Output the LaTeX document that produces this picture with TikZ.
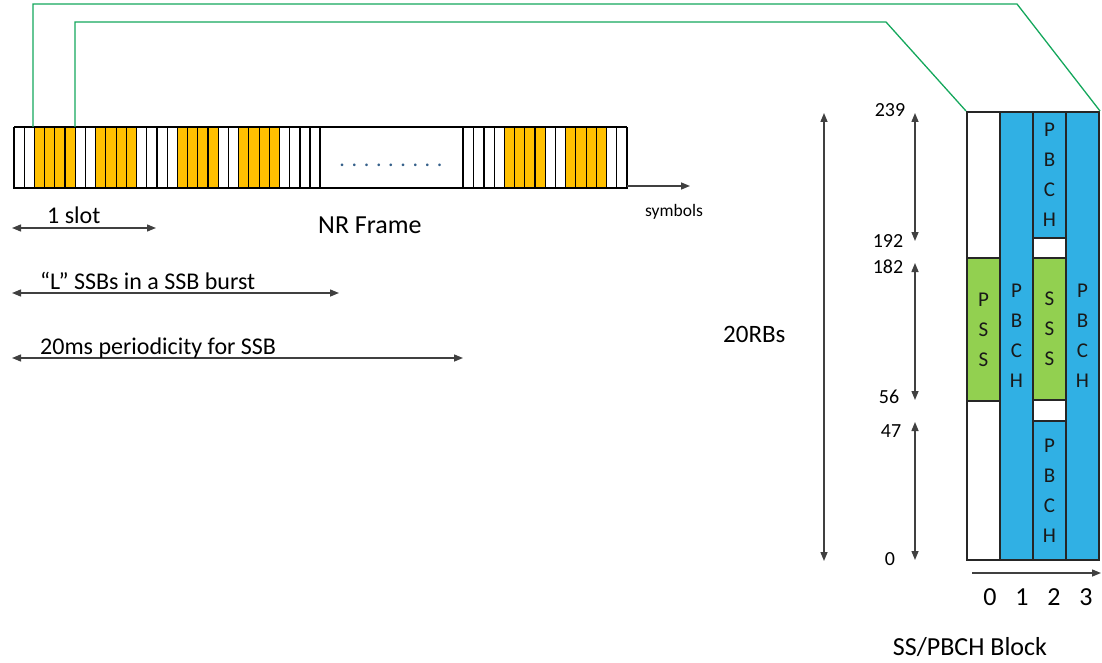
\documentclass[tikz,border=0pt]{standalone}
\usepackage{fontspec}
\setmainfont{Carlito}
\usetikzlibrary{arrows.meta}
\definecolor{ssbyellow}{HTML}{FFC000}
\definecolor{pbchblue}{HTML}{30B0E4}
\definecolor{ssgreen}{HTML}{92D050}
\definecolor{lnkgreen}{HTML}{14A75C}
\definecolor{dimgray}{HTML}{404040}
\definecolor{dotblue}{HTML}{35608A}
\tikzset{cell/.append style={draw=black!85, line width=2pt, minimum width=33pt, inner sep=0pt, align=center, text=black!90, font=\fontsize{21}{30}\selectfont}}
\tikzset{dim/.append style={draw=dimgray, line width=1.4pt, {Triangle[length=9pt,width=7pt]}-{Triangle[length=9pt,width=7pt]}}}
\tikzset{axis/.append style={draw=dimgray, line width=1.4pt, -{Triangle[length=9pt,width=7pt]}}}
\tikzset{lnk/.append style={draw=lnkgreen, line width=1.3pt}}
\tikzset{symline/.append style={draw=black, line width=1.2pt}}
\tikzset{slotline/.append style={draw=black, line width=2.2pt}}
\tikzset{lbl/.append style={inner sep=0pt, font=\fontsize{24}{29}\selectfont}}
\tikzset{num/.append style={inner sep=0pt, anchor=base, font=\fontsize{20}{24}\selectfont}}

\begin{document}
\begin{tikzpicture}[x=1pt,y=-1pt]
                \useasboundingbox (0,0) rectangle (1102,663);
                % NR frame: full slots
                \def\w{10.21}
                \foreach \s in {14,157,484}{
                    \fill[ssbyellow] (\s+2*\w,127) rectangle (\s+6*\w,188);
                    \fill[ssbyellow] (\s+8*\w,127) rectangle (\s+12*\w,188);
                    \foreach \k in {1,...,13} \draw[symline] (\s+\k*\w,127) -- (\s+\k*\w,188);
                    \draw[symline] (\s,127) -- (\s+14*\w,127);
                    \draw[slotline] (\s,127) -- (\s,188) -- (\s+14*\w,188) -- (\s+14*\w,127);
                }
                % skipped slots
                \draw[symline] (300,127) -- (484,127) (310,127) -- (310,188) (473.5,127) -- (473.5,188);
                \draw[slotline] (300,127) -- (300,188) -- (484,188);
                \draw[slotline] (320,127) -- (320,188) (463,127) -- (463,188);
                \node[font=\fontsize{22}{26}\selectfont, text=dotblue, anchor=base, inner sep=0pt] (dots) at (391,167) {. . . . . . . . .};
                % SS/PBCH block
                \node[cell, fill=white, minimum height=448pt] (c0) at (983.5,336) {};
                \node[cell, fill=ssgreen, minimum height=143pt] (pss) at (983.5,329.5) {P\\S\\S};
                \node[cell, fill=pbchblue, minimum height=448pt] (c1) at (1016.5,336) {P\\B\\C\\H};
                \node[cell, fill=white, minimum height=448pt] (c2) at (1049.5,336) {};
                \node[cell, fill=pbchblue, minimum height=126pt] (pbchT) at (1049.5,175) {P\\B\\C\\H};
                \node[cell, fill=ssgreen, minimum height=142pt] (sss) at (1049.5,329) {S\\S\\S};
                \node[cell, fill=pbchblue, minimum height=139pt] (pbchB) at (1049.5,490.5) {P\\B\\C\\H};
                \node[cell, fill=pbchblue, minimum height=448pt] (c3) at (1082.5,336) {P\\B\\C\\H};
                % links from the burst to the block
                \coordinate (ssbA) at (33,127);
                \coordinate (ssbB) at (75,127);
                \draw[lnk] (ssbA) |- (1017,4) -- (c3.north east);
                \draw[lnk] (ssbB) |- (886,22) -- (c0.north west);
                % time axis and spans
                \coordinate (frameEnd) at (627,186);
                \coordinate (symTip) at (690,186);
                \draw[axis] (frameEnd) -- (symTip);
                \node[inner sep=0pt, anchor=base west, font=\fontsize{17.5}{21}\selectfont] (symbols) at (645,216) {symbols};
                \node[lbl, anchor=base west, font=\fontsize{26}{31}\selectfont] (frame) at (318,233) {NR Frame};
                \coordinate (slotL) at (12,228);
                \coordinate (slotR) at (156,228);
                \draw[dim] (slotL) -- (slotR);
                \node[lbl, anchor=base west] (slot) at (47,223) {1 slot};
                \coordinate (burstL) at (12,293);
                \coordinate (burstR) at (339,293);
                \draw[dim] (burstL) -- (burstR);
                \node[lbl, anchor=base west] (burst) at (40,289) {“L” SSBs in a SSB burst};
                \coordinate (periodL) at (12,358);
                \coordinate (periodR) at (463,358);
                \draw[dim] (periodL) -- (periodR);
                \node[lbl, anchor=base west] (period) at (40,354) {20ms periodicity for SSB};
                % RB spans
                \coordinate (rbT) at (824,113);
                \coordinate (rbB) at (824,561);
                \draw[dim] (rbT) -- (rbB);
                \node[lbl, anchor=base west, font=\fontsize{25}{30}\selectfont] (rbs) at (723,342) {20RBs};
                \foreach \n/\x/\y in {239/890/117,192/888/247,182/888/273,56/889/403,47/891/437,0/890/565}
                    \node[num] (r\n) at (\x,\y) {\n};
                \foreach \n/\a/\b in {hi/113/241,mid/263/400,lo/422/560}{
                    \coordinate (\n-t) at (915,\a);
                    \coordinate (\n-b) at (915,\b);
                    \draw[dim] (\n-t) -- (\n-b);
                }
                % symbol axis of the block
                \coordinate (blkL) at (972,573);
                \coordinate (blkR) at (1101,573);
                \draw[axis] (blkL) -- (blkR);
                \foreach \i/\x in {0/990,1/1022,2/1054,3/1086}
                    \node[num, font=\fontsize{26}{31}\selectfont] (col\i) at (\x,605) {\i};
                \node[lbl, anchor=base, font=\fontsize{26}{31}\selectfont] (block) at (970,655) {SS/PBCH Block};
            \end{tikzpicture}
\end{document}
